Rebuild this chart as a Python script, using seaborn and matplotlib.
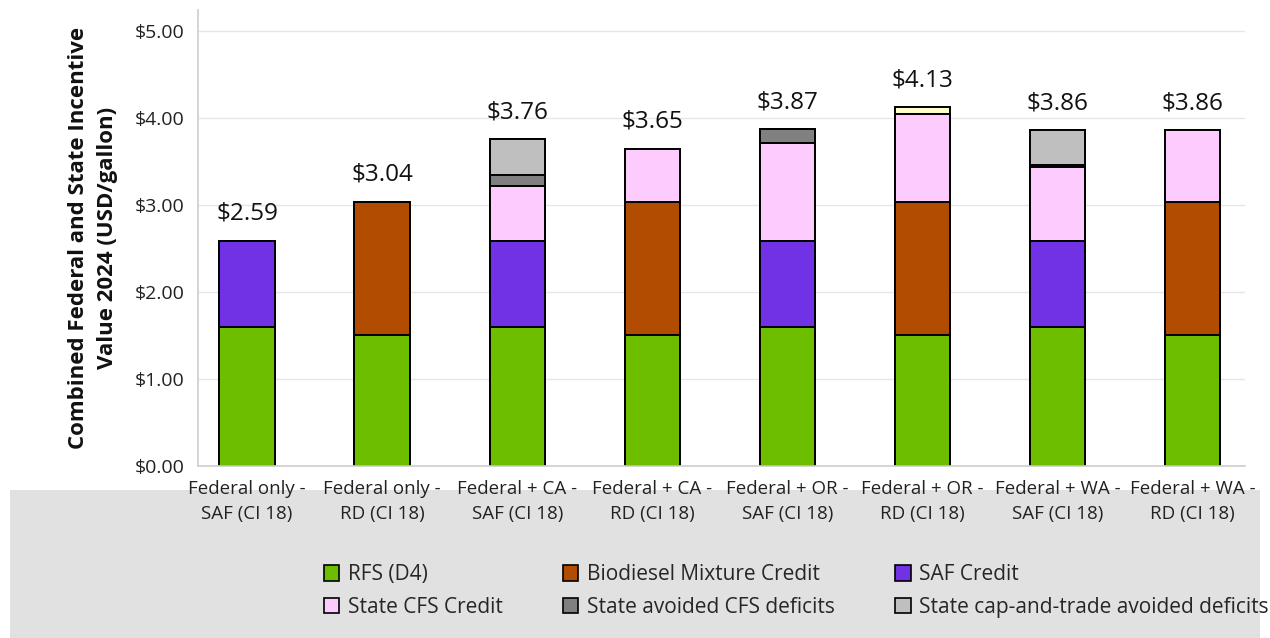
import numpy as np
import pandas as pd
import matplotlib.pyplot as plt
from matplotlib.patches import Patch, Rectangle
import seaborn as sns

plt.switch_backend('Agg')
sns.set_theme(style='whitegrid')
plt.rcParams['font.family'] = ['Open Sans', 'DejaVu Sans']

categories = ['Federal only -\nSAF (CI 18)', 'Federal only -\nRD (CI 18)',
              'Federal + CA -\nSAF (CI 18)', 'Federal + CA -\nRD (CI 18)',
              'Federal + OR -\nSAF (CI 18)', 'Federal + OR -\nRD (CI 18)',
              'Federal + WA -\nSAF (CI 18)', 'Federal + WA -\nRD (CI 18)']

# USD/gallon, stacked bottom -> top
rfs_d4      = [1.60, 1.50, 1.60, 1.50, 1.60, 1.50, 1.60, 1.50]
saf_credit  = [0.99, 0.00, 0.99, 0.00, 0.99, 0.00, 0.99, 0.00]
bmc         = [0.00, 1.54, 0.00, 1.54, 0.00, 1.54, 0.00, 1.54]
state_cfs   = [0.00, 0.00, 0.63, 0.61, 1.13, 1.01, 0.85, 0.82]
avoided_cfs = [0.00, 0.00, 0.13, 0.00, 0.15, 0.00, 0.02, 0.00]
cap_trade   = [0.00, 0.00, 0.41, 0.00, 0.00, 0.00, 0.40, 0.00]
other_state = [0.00, 0.00, 0.00, 0.00, 0.00, 0.08, 0.00, 0.00]

layers = [
    ('RFS (D4)', rfs_d4, '#6EBE00'),
    ('SAF Credit', saf_credit, '#7132E6'),
    ('Biodiesel Mixture Credit', bmc, '#B14C00'),
    ('State CFS Credit', state_cfs, '#FDCBFD'),
    ('State avoided CFS deficits', avoided_cfs, '#808080'),
    ('State cap-and-trade avoided deficits', cap_trade, '#BFBFBF'),
    ('_other', other_state, '#FFFFCC'),
]

df = pd.DataFrame({name: vals for name, vals, _ in layers}, index=categories)
cum = df.cumsum(axis=1)

fig = plt.figure(figsize=(12.7, 6.38), dpi=100)
fig.patches.append(Rectangle((0.008, 0), 0.984, 0.232, transform=fig.transFigure,
                             facecolor='#E1E1E1', edgecolor='none', zorder=-1))
ax = fig.add_axes([0.156, 0.27, 0.824, 0.715])

# overlay cumulative bars from the top layer down
for name, vals, color in reversed(layers):
    sns.barplot(x=categories, y=cum[name].values, color=color, saturation=1,
                width=0.41, edgecolor='black', linewidth=1.4, errorbar=None, ax=ax)

totals = df.sum(axis=1).values
for i, t in enumerate(totals):
    ax.text(i, t + 0.17, '${:.2f}'.format(t), ha='center', va='bottom', fontsize=17.5, color='#111111')

ax.set_ylim(0, 5.25)
ax.set_xlim(-0.363, 7.387)
ax.set_yticks(np.arange(0, 6, 1))
ax.set_yticklabels(['${:.2f}'.format(v) for v in np.arange(0, 6, 1)], fontsize=14, color='#222222')
ax.tick_params(axis='x', labelsize=13.5, colors='#222222', length=0, pad=10)
ax.tick_params(axis='y', length=0, pad=10)
for lab in ax.get_xticklabels():
    lab.set_linespacing(1.55)
ax.xaxis.grid(False)
ax.yaxis.grid(True, color='#E6E6E6', linewidth=1)
sns.despine(ax=ax)
for s in ['left', 'bottom']:
    ax.spines[s].set_color('#D0D0D0')
ax.set_xlabel('')
ax.set_ylabel('Combined Federal and State Incentive\nValue 2024 (USD/gallon)',
              fontsize=16, fontweight='bold', labelpad=12, color='#111111', linespacing=1.45)

handle_order = [0, 3, 2, 4, 1, 5]
handles = [Patch(facecolor=layers[k][2], edgecolor='black', linewidth=1.2, label=layers[k][0])
           for k in handle_order]
fig.legend(handles=handles, loc='upper left', bbox_to_anchor=(0.24, 0.145), ncol=3,
           frameon=False, fontsize=15, handlelength=0.75, handleheight=0.75,
           handletextpad=0.4, columnspacing=2.9, labelspacing=0.55)

plt.savefig('out.png', dpi=100)
plt.close('all')
